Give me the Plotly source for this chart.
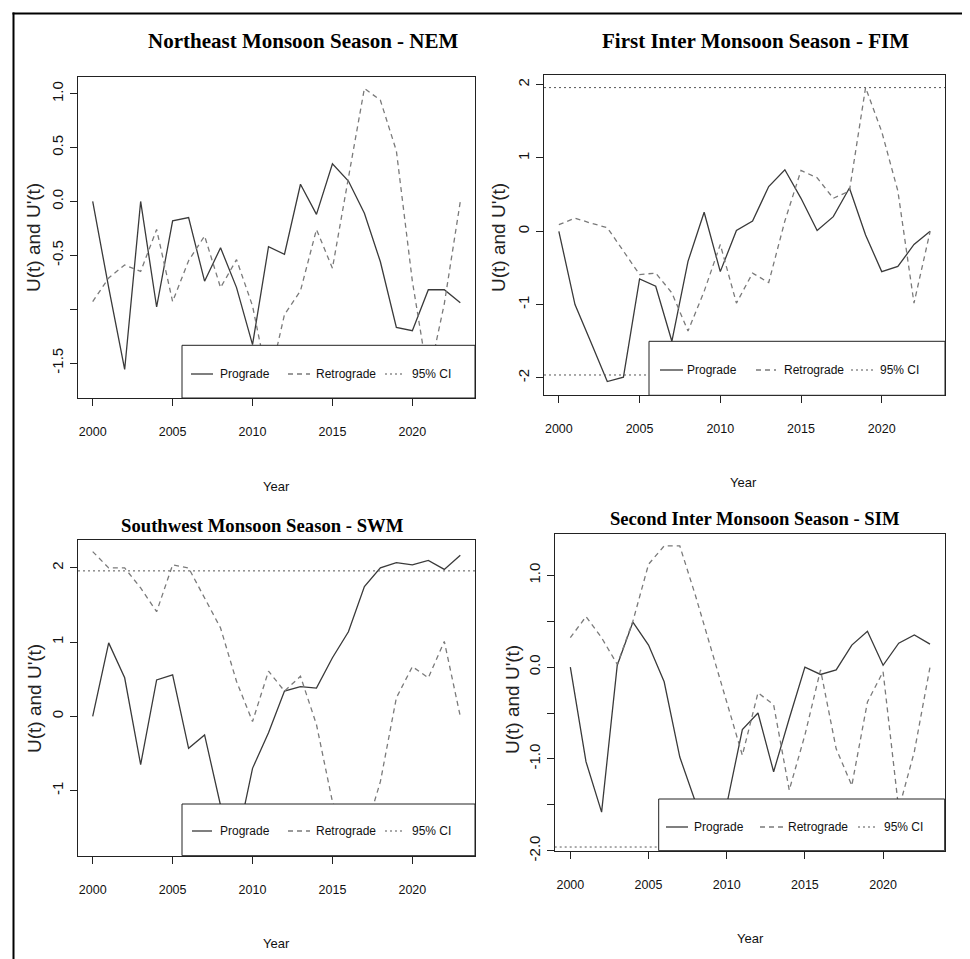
import plotly.graph_objects as go

# ---------------- data ----------------
years = list(range(2000, 2024))

nem_prograde = [0.00, -0.80, -1.56, 0.00, -0.98, -0.18, -0.15, -0.74, -0.43, -0.80, -1.33, -0.42,
                -0.49, 0.16, -0.12, 0.35, 0.19, -0.11, -0.56, -1.17, -1.20, -0.82, -0.82, -0.94]
nem_retrograde = [-0.93, -0.71, -0.59, -0.65, -0.26, -0.93, -0.55, -0.32, -0.80, -0.54, -0.97, -1.70,
                  -1.05, -0.83, -0.26, -0.62, 0.22, 1.05, 0.94, 0.47, -0.74, -1.65, -0.95, 0.00]

fim_prograde = [0.00, -1.00, -1.52, -2.05, -1.99, -0.65, -0.75, -1.50, -0.41, 0.26, -0.55, 0.01,
                0.14, 0.61, 0.84, 0.45, 0.01, 0.20, 0.59, -0.05, -0.55, -0.48, -0.18, 0.00]
fim_retrograde = [0.09, 0.18, 0.11, 0.05, -0.27, -0.59, -0.57, -0.84, -1.36, -0.82, -0.18, -0.98,
                  -0.57, -0.70, 0.14, 0.83, 0.73, 0.45, 0.55, 1.96, 1.36, 0.55, -0.98, 0.00]

swm_prograde = [0.00, 0.99, 0.52, -0.65, 0.49, 0.56, -0.43, -0.25, -1.20, -1.72, -0.70, -0.22,
                0.34, 0.40, 0.38, 0.79, 1.14, 1.75, 2.00, 2.07, 2.04, 2.10, 1.98, 2.17]
swm_retrograde = [2.22, 2.00, 2.00, 1.73, 1.41, 2.04, 2.00, 1.59, 1.19, 0.47, -0.07, 0.61,
                  0.34, 0.54, -0.11, -1.15, -1.65, -1.60, -0.88, 0.25, 0.67, 0.52, 1.01, 0.00]

sim_prograde = [0.00, -1.03, -1.58, 0.02, 0.49, 0.24, -0.16, -0.98, -1.47, -1.75, -1.50, -0.68,
                -0.50, -1.14, -0.56, 0.00, -0.08, -0.03, 0.24, 0.39, 0.02, 0.26, 0.35, 0.25]
sim_retrograde = [0.32, 0.55, 0.32, 0.03, 0.50, 1.12, 1.32, 1.32, 0.78, 0.21, -0.38, -0.96,
                  -0.28, -0.41, -1.34, -0.74, -0.03, -0.89, -1.29, -0.38, -0.05, -1.55, -0.92, 0.00]

ci_value = 1.96

titles = ["Northeast Monsoon Season - NEM", "First Inter Monsoon Season - FIM",
          "Southwest Monsoon Season - SWM", "Second Inter Monsoon Season - SIM"]
x_tickvals = [2000, 2005, 2010, 2015, 2020]
x_ticktext = ["2000", "2005", "2010", "2015", "2020"]
nem_yticks = [1.0, 0.5, 0.0, -0.5, -1.0, -1.5]
nem_ylabels = ["1.0", "0.5", "0.0", "-0.5", "", "-1.5"]
fim_yticks = [2, 1, 0, -1, -2]
fim_ylabels = ["2", "1", "0", "-1", "-2"]
swm_yticks = [2, 1, 0, -1]
swm_ylabels = ["2", "1", "0", "-1"]
sim_yticks = [1.0, 0.5, 0.0, -0.5, -1.0, -1.5, -2.0]
sim_ylabels = ["1.0", "", "0.0", "", "-1.0", "", "-2.0"]
legend_labels = ["Prograde", "Retrograde", "95% CI"]
x_title = "Year"
y_title = "U(t) and U'(t)"

# ---------------- layout helpers ----------------
W, H = 970, 959
def px(x):
    return x / W
def py(y):
    return 1 - y / H

NARROW = "Liberation Sans, Arial, sans-serif"
SANS = "Liberation Sans, Arial, sans-serif"
SERIF = "Liberation Serif, Times New Roman, serif"
LINE = "#222222"
PRO_COL = "#3a3a3a"
RET_COL = "#7a7a7a"
CI_COL = "#555555"
RET_DASH = "5px,4px"
CI_DASH = "2px,3px"

panels = [
    dict(pro=nem_prograde, ret=nem_retrograde, box=(70, 69.3, 467, 390), xr=[1999.08, 2023.92],
         yr=[-1.825, 1.153], yt=nem_yticks, yl=nem_ylabels, ci=[],
         title=titles[0], tpos=(295, 33), tsize=21,
         xlab=(268, 478), ylab=(25, 230), leg=(174, 337.3, 467, 390),
         ent=[(183, 205, 236.5), (280, 302, 337.5), (377, 397, 423.5)], lyc=366),
    dict(pro=fim_prograde, ret=fim_retrograde, box=(536, 66.7, 937, 387.3), xr=[1999.08, 2023.92],
         yr=[-2.237, 2.136], yt=fim_yticks, yl=fim_ylabels, ci=[ci_value, -ci_value],
         title=titles[1], tpos=(747, 33), tsize=21,
         xlab=(735, 475), ylab=(490, 230), leg=(641, 333.3, 937, 387.3),
         ent=[(652, 675, 704), (748, 768, 805.5), (843, 865, 891.5)], lyc=362),
    dict(pro=swm_prograde, ret=swm_retrograde, box=(70, 531.7, 467, 847.7), xr=[1999.08, 2023.92],
         yr=[-1.877, 2.38], yt=swm_yticks, yl=swm_ylabels, ci=[ci_value, -ci_value],
         title=titles[2], tpos=(254, 517), tsize=18.7,
         xlab=(268, 935), ylab=(26, 691), leg=(174, 796, 467, 847.7),
         ent=[(184, 204, 236.5), (280, 302, 337.5), (377, 397, 423.5)], lyc=823),
    dict(pro=sim_prograde, ret=sim_retrograde, box=(546.7, 526, 936.7, 842.7), xr=[1999.0, 2023.94],
         yr=[-2.0, 1.45], yt=sim_yticks, yl=sim_ylabels, ci=[ci_value, -ci_value],
         title=titles[3], tpos=(747, 510), tsize=18.6,
         xlab=(742, 930), ylab=(504, 692), leg=(650.7, 791, 936.7, 842.7),
         ent=[(658, 680, 710.5), (752, 775, 810), (850, 870, 895.5)], lyc=819),
]

fig = go.Figure()
shapes = []
annotations = []
layout_axes = {}

for i, p in enumerate(panels):
    n = "" if i == 0 else str(i + 1)
    xa, ya = "x" + n, "y" + n
    fig.add_trace(go.Scatter(x=years, y=p["pro"], mode="lines", xaxis=xa, yaxis=ya,
                             line=dict(color=PRO_COL, width=1.3), showlegend=False))
    fig.add_trace(go.Scatter(x=years, y=p["ret"], mode="lines", xaxis=xa, yaxis=ya,
                             line=dict(color=RET_COL, width=1.3, dash=RET_DASH), showlegend=False))
    x0, y0, x1, y1 = p["box"]
    common = dict(showline=True, mirror=True, linecolor=LINE, linewidth=1, ticks="outside",
                  ticklen=7, tickcolor=LINE, tickwidth=1, showgrid=False, zeroline=False,
                  automargin=False, fixedrange=True)
    layout_axes["xaxis" + n] = dict(common, domain=[px(x0), px(x1)], range=p["xr"], anchor=ya,
                                   tickvals=x_tickvals, ticktext=x_ticktext,
                                   tickfont=dict(family=NARROW, size=12.5, color="#111"),
                                   ticklabelstandoff=15)
    layout_axes["yaxis" + n] = dict(common, domain=[py(y1), py(y0)], range=p["yr"], anchor=xa,
                                   tickvals=p["yt"], ticktext=p["yl"], tickangle=-90,
                                   tickfont=dict(family=SANS, size=15, color="#111"),
                                   ticklabelstandoff=1)
    # 95% CI lines
    for c in p["ci"]:
        shapes.append(dict(type="line", xref=xa + " domain", yref=ya, x0=0, x1=1, y0=c, y1=c,
                           line=dict(color=CI_COL, width=1, dash=CI_DASH), layer="above"))
    # legend box
    lx0, ly0, lx1, ly1 = p["leg"]
    shapes.append(dict(type="rect", xref="paper", yref="paper", x0=px(lx0), x1=px(lx1),
                       y0=py(ly1), y1=py(ly0), fillcolor="white",
                       line=dict(color=LINE, width=1), layer="above"))
    styles = [dict(color=PRO_COL, width=1.3), dict(color=RET_COL, width=1.3, dash=RET_DASH),
              dict(color=CI_COL, width=1.2, dash=CI_DASH)]
    for (sx0, sx1, tx), lab, st in zip(p["ent"], legend_labels, styles):
        shapes.append(dict(type="line", xref="paper", yref="paper", x0=px(sx0), x1=px(sx1),
                           y0=py(p["lyc"]), y1=py(p["lyc"]), line=st, layer="above"))
        annotations.append(dict(text=lab, xref="paper", yref="paper", x=px(tx), y=py(p["lyc"]),
                                xanchor="center", yanchor="middle", showarrow=False,
                                font=dict(family=NARROW, size=12, color="#111")))
    # titles
    annotations.append(dict(text="<b>" + p["title"] + "</b>", xref="paper", yref="paper",
                            x=px(p["tpos"][0]), y=py(p["tpos"][1]), xanchor="center",
                            yanchor="middle", showarrow=False,
                            font=dict(family=SERIF, size=p["tsize"], color="#000")))
    annotations.append(dict(text=x_title, xref="paper", yref="paper", x=px(p["xlab"][0]),
                            y=py(p["xlab"][1]), xanchor="center", yanchor="middle",
                            showarrow=False, font=dict(family=NARROW, size=13, color="#111")))
    annotations.append(dict(text=y_title, xref="paper", yref="paper", x=px(p["ylab"][0]),
                            y=py(p["ylab"][1]), xanchor="center", yanchor="middle",
                            textangle=-90, showarrow=False,
                            font=dict(family=SANS, size=19, color="#222")))

# outer frame (left and top edges)
shapes.append(dict(type="line", xref="paper", yref="paper", x0=px(5.5), x1=px(5.5),
                   y0=0, y1=py(4.5), line=dict(color="#000", width=2), layer="above"))
shapes.append(dict(type="line", xref="paper", yref="paper", x0=px(4.5), x1=1,
                   y0=py(5.5), y1=py(5.5), line=dict(color="#000", width=2), layer="above"))

fig.update_layout(width=W, height=H, margin=dict(l=0, r=0, t=0, b=0),
                  paper_bgcolor="white", plot_bgcolor="white", showlegend=False,
                  shapes=shapes, annotations=annotations, **layout_axes)

fig.write_html("out.html")
